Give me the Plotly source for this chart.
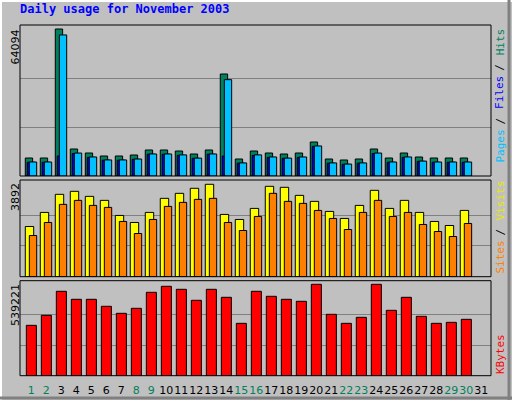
import plotly.graph_objects as go

days = list(range(1, 32))
bar_days = list(range(1, 31))
hits = [7850, 7850, 64094, 11770, 10030, 8720, 8720, 9150, 11340, 11340, 10900, 9590, 11340, 44470, 7410,
        10900, 10030, 9590, 10030, 14820, 7410, 6980, 7410, 11770, 7850, 10030, 8280, 7850, 7850, 7850]
files = [6100, 6100, 61500, 10000, 8300, 7000, 7000, 7400, 9600, 9600, 9200, 7800, 9600, 42000, 5700,
         9200, 8300, 7800, 8300, 13100, 5700, 5200, 5700, 10000, 6100, 8300, 6500, 6100, 6100, 6100]
pages = [6000, 6000, 8720, 9800, 8100, 6900, 6900, 7300, 9500, 9500, 9000, 7700, 9500, 8720, 5600,
         9000, 8100, 7700, 8100, 12900, 5600, 5100, 5600, 9800, 6000, 8100, 6400, 6000, 6000, 6000]
visits = [2115, 2708, 3469, 3596, 3384, 3215, 2580, 2284, 2708, 3300, 3511, 3723, 3892, 2623, 2411,
          2876, 3807, 3765, 3426, 3173, 2750, 2453, 3003, 3638, 2876, 3215, 2708, 2327, 2157, 2792]
sites = [1734, 2284, 3046, 3215, 3003, 2919, 2327, 1819, 2411, 2961, 3130, 3257, 3300, 2284, 1946,
         2538, 3511, 3173, 3088, 2792, 2453, 1988, 2708, 3215, 2538, 2708, 2200, 1904, 1692, 2242]
kbytes = [297168, 356208, 497904, 450672, 450672, 409344, 368016, 397536, 492000, 527424, 509712, 444768,
          509712, 462480, 308976, 497904, 468384, 450672, 438864, 539221, 362112, 308976, 344400, 539221,
          385728, 462480, 350304, 308976, 314880, 332592]
weekend = [1, 2, 8, 9, 15, 16, 22, 23, 29, 30]
title = "Daily usage for November 2003"

W, H = 512, 400
def py(y): return 1 - y / H
def px(x): return x / W

fig = go.Figure()
line = dict(color="black", width=1)
def bar(y, color, off, w, axis):
    fig.add_trace(go.Bar(x=bar_days, y=y, marker=dict(color=color, line=line), offset=off, width=w,
                         xaxis="x", yaxis=axis, showlegend=False, hoverinfo="skip"))
bar(hits, "#00805c", -0.4, 0.49, "y")
bar(pages, "#0000ff", -0.27, 0.49, "y")
bar(files, "#00c0ff", -0.13, 0.49, "y")
bar(visits, "#ffff00", -0.4, 0.56, "y2")
bar(sites, "#ff8000", -0.13, 0.49, "y2")
bar(kbytes, "#ff0000", -0.33, 0.67, "y3")

ticktext = [f"<span style='color:{'#00805c' if d in weekend else 'black'}'>{d}</span>" for d in days]
fig.update_layout(
    width=W, height=H, margin=dict(l=0, r=0, t=0, b=0), barmode="overlay",
    paper_bgcolor="#c0c0c0", plot_bgcolor="#c0c0c0",
    font=dict(family="DejaVu Sans", size=10, color="black"),
    xaxis=dict(domain=[px(20), px(491)], range=[0.247, 31.65], anchor="y3", tickvals=days, ticktext=ticktext,
               tickangle=0, showgrid=False, zeroline=False, ticks="outside", ticklen=4, tickcolor="rgba(0,0,0,0)",
               tickfont=dict(size=11)),
)
def yax(mx, top, dom):
    return dict(domain=dom, range=[0, top], tickvals=[mx / 3, 2 * mx / 3], showticklabels=False,
                gridcolor="#808080", gridwidth=1, zeroline=False, ticks="", fixedrange=True, anchor="x")
fig.update_layout(
    yaxis=yax(max(hits), 65838, [py(176), py(25)]),
    yaxis2=yax(max(visits), 4073, [py(276.7), py(180)]),
    yaxis3=yax(max(kbytes), 560460, [py(375.7), py(280.7)]),
)

shapes = []
for t, b in [(25, 176), (180, 276.7), (280.7, 375.7)]:
    shapes.append(dict(type="rect", xref="paper", yref="paper", x0=px(20), x1=px(491), y0=py(b), y1=py(t),
                       line=dict(color="black", width=1)))
shapes += [
    dict(type="line", xref="paper", yref="paper", x0=0, x1=1, y0=py(1), y1=py(1), line=dict(color="white", width=2)),
    dict(type="line", xref="paper", yref="paper", x0=px(1), x1=px(1), y0=0, y1=1, line=dict(color="white", width=2)),
    dict(type="line", xref="paper", yref="paper", x0=px(509), x1=px(509), y0=0, y1=1, line=dict(color="#808080", width=3)),
    dict(type="line", xref="paper", yref="paper", x0=0, x1=1, y0=py(398), y1=py(398), line=dict(color="#808080", width=3)),
]
fig.update_layout(shapes=shapes)

ann = [dict(text=f"<b>{title}</b>", x=px(18), y=py(9), xref="paper", yref="paper", xanchor="left", yanchor="middle",
            showarrow=False, font=dict(family="DejaVu Sans Mono", size=12, color="#0000ff"))]
for val, top in [(max(hits), 28), (max(visits), 181), (max(kbytes), 282)]:
    ann.append(dict(text=str(val), x=px(15), y=py(top), xref="paper", yref="paper", xanchor="center", yanchor="top",
                    textangle=-90, showarrow=False, font=dict(size=11)))
CH = 6.7
right = [
    ([("Pages", "#00c0ff"), (" / ", "black"), ("Files", "#0000ff"), (" / ", "black"), ("Hits", "#00805c")], 165),
    ([("Sites", "#ff8000"), (" / ", "black"), ("Visits", "#e8e800")], 276),
    ([("KBytes", "#ff0000")], 376),
]
for parts, bot in right:
    pos = bot
    for txt, col in parts:
        if txt.strip() != txt:
            c = pos - len(txt) * CH / 2
            ann.append(dict(text="/", x=px(500), y=py(c), xref="paper", yref="paper", xanchor="center",
                            yanchor="middle", textangle=-90, showarrow=False,
                            font=dict(family="DejaVu Sans Mono", size=11, color=col)))
        else:
            ann.append(dict(text=txt, x=px(500), y=py(pos), xref="paper", yref="paper", xanchor="center",
                            yanchor="bottom", textangle=-90, showarrow=False,
                            font=dict(family="DejaVu Sans Mono", size=11, color=col)))
        pos -= len(txt) * CH
fig.update_layout(annotations=ann)

fig.write_html("out.html", config={"displayModeBar": False},
               post_script="document.body.style.margin='0';document.body.style.overflow='hidden';")
